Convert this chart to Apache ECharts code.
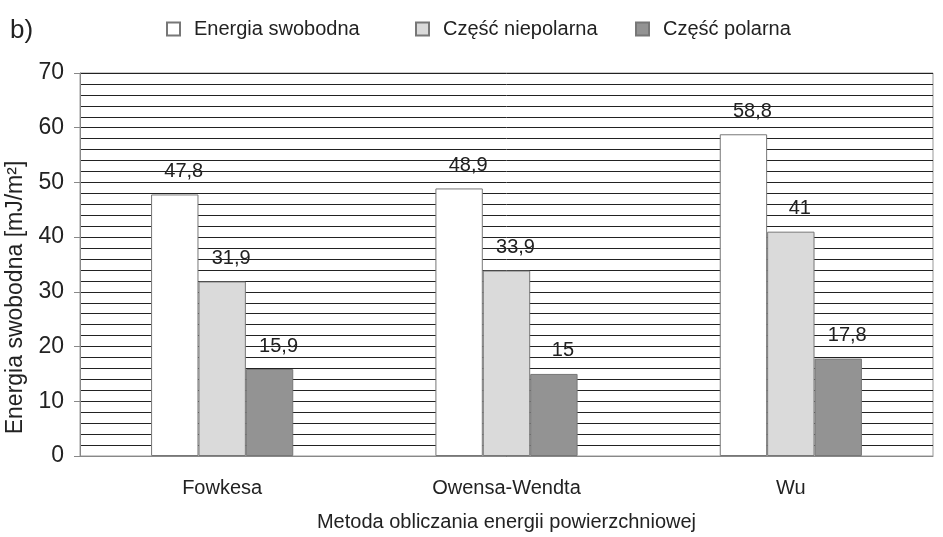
<!DOCTYPE html>
<html><head><meta charset="utf-8">
<script src="https://cdn.jsdelivr.net/npm/echarts@6/dist/echarts.min.js"></script>
<style>html,body{margin:0;padding:0;background:#fff}#c{width:943px;height:537px}</style>
</head><body><div id="c"></div>
<script>
const categories = ['Fowkesa', 'Owensa-Wendta', 'Wu'];
const seriesNames = ['Energia swobodna', 'Część niepolarna', 'Część polarna'];
const energiaSwobodna = [47.8, 48.9, 58.8];
const czescNiepolarna = [31.9, 33.9, 41];
const czescPolarna = [15.9, 15, 17.8];
const colors = ['#ffffff', '#dadada', '#939393'];
const F = '"Liberation Sans", Arial, sans-serif';
const chart = echarts.init(document.getElementById('c'));
const lbl = {
  show: true, position: 'top', distance: 13, offset: [9, 0],
  color: '#222', fontSize: 20, fontFamily: F,
  formatter: p => String(p.value).replace('.', ',')
};
const data = [energiaSwobodna, czescNiepolarna, czescPolarna];
const legendLefts = [166, 415, 635];
chart.setOption({
  animation: false,
  textStyle: { fontFamily: F },
  title: { text: 'b)', left: 5, top: 13, textStyle: { fontSize: 26, fontWeight: 'normal', color: '#222', fontFamily: F } },
  legend: seriesNames.map((n, i) => ({
    top: 19, left: legendLefts[i], padding: 0, itemWidth: 13, itemHeight: 13,
    icon: 'rect',
    textStyle: { fontSize: 20, color: '#222', fontFamily: F, padding: [0, 0, 0, 9] },
    data: [n]
  })),
  grid: { left: 80, right: 10, top: 73, bottom: 81, show: true, borderColor: '#999', borderWidth: 1,
          outerBoundsMode: 'none', containLabel: false },
  xAxis: {
    type: 'category', data: categories,
    axisLine: { lineStyle: { color: '#888' } }, axisTick: { show: false },
    axisLabel: { fontSize: 20, color: '#222', margin: 22, fontFamily: F },
    name: 'Metoda obliczania energii powierzchniowej', nameLocation: 'middle', nameGap: 56,
    nameTextStyle: { fontSize: 20, color: '#222', fontFamily: F }
  },
  yAxis: [
    { type: 'value', min: 0, max: 70, interval: 2,
      axisLine: { show: false }, axisTick: { show: false }, axisLabel: { show: false },
      splitLine: { show: true, lineStyle: { color: '#222', width: 1 } } },
    { type: 'value', min: 0, max: 70, interval: 10, position: 'left',
      axisLine: { show: true, lineStyle: { color: '#888' } },
      axisTick: { show: true, length: 6, lineStyle: { color: '#888' } },
      axisLabel: { fontSize: 23, color: '#222', margin: 16, fontFamily: F },
      splitLine: { show: false },
      name: 'Energia swobodna [mJ/m²]', nameLocation: 'middle', nameGap: 53,
      nameTextStyle: { fontSize: 23, color: '#222', fontFamily: F, padding: [0, 66, 0, 0] } }
  ],
  series: seriesNames.map((n, i) => ({
    name: n, type: 'bar', yAxisIndex: 0, data: data[i],
    barGap: '0%', barCategoryGap: '50%',
    itemStyle: { color: colors[i], borderColor: '#777', borderWidth: 1 },
    label: lbl
  }))
});
</script></body></html>
